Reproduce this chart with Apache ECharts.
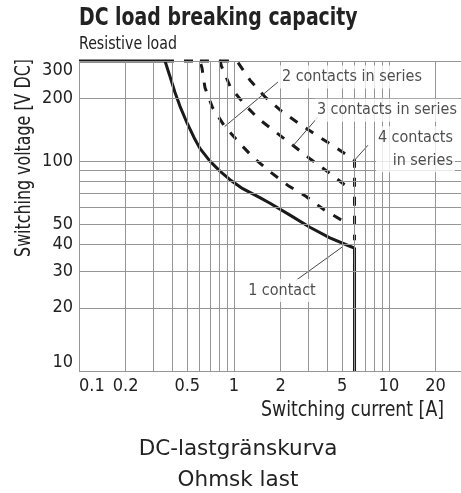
<!DOCTYPE html>
<html>
<head>
<meta charset="utf-8">
<script src="https://cdn.jsdelivr.net/npm/echarts@6/dist/echarts.min.js"></script>
<style>
  html, body { margin: 0; padding: 0; background: #fff; }
  #chart { width: 461px; height: 493px; }
</style>
</head>
<body>
<div id="chart"></div>
<script>
// log paper: where the grid lines sit and which ones carry a label
const xGrid = [0.1, 0.2, 0.3, 0.4, 0.5, 0.6, 0.7, 0.8, 0.9, 1, 2, 3, 4, 5, 6, 7, 8, 9, 10, 20]
const xLabels = [0.1, 0.2, 0.5, 1, 2, 5, 10, 20]
const yGrid = [10, 20, 30, 40, 50, 60, 70, 80, 90, 100, 200, 300]
const yLabels = [10, 20, 30, 40, 50, 100, 200, 300]

// curves, [current A, voltage V]
const oneContact = [[0.1, 300], [0.359, 300], [0.386, 254], [0.416, 213], [0.448, 183], [0.498, 152],
  [0.56, 127], [0.603, 115], [0.7, 100], [0.812, 89.6], [0.942, 81.6], [1.14, 73.9], [1.47, 67],
  [1.71, 63], [2.3, 55.3], [3.09, 48.4], [4.16, 43.1], [5.6, 39.3], [6, 38.5], [6, 10]]
const twoContacts = [[0.359, 300], [0.603, 300], [0.622, 278], [0.65, 224], [0.727, 180], [0.868, 147],
  [1.09, 121.6], [1.33, 104.2], [1.73, 88.4], [2.23, 76.6], [2.91, 68], [3.86, 58.3], [5.36, 50.6]]
const threeContacts = [[0.603, 300], [0.812, 300], [0.83, 284], [0.949, 225], [1.18, 185], [1.43, 160],
  [1.87, 137], [2.4, 119], [3.13, 102], [3.98, 89.6], [5.2, 77]]
const fourContacts = [[0.812, 300], [1.045, 300], [1.09, 287], [1.27, 243], [1.58, 203], [2.01, 174],
  [2.63, 151], [3.46, 132], [4.55, 116], [6, 101], [6, 42]]

// callouts: text, anchor of the text, leader line from -> to
const notes = [
  { text: '2 contacts in series', at: [1.98, 252], align: 'left', from: [1.92, 238], to: [0.87, 146] },
  { text: '3 contacts in series', at: [3.33, 175], align: 'left', from: [3.48, 162], to: [2.4, 118] },
  { text: '4 contacts\nin series', at: [26.7, 114], align: 'right', from: [7.32, 119], to: [6, 101] },
  { text: '1 contact', at: [2.04, 24.2], align: 'center', from: [2.51, 27], to: [5.05, 39.2] }
]

const narrow = '"DejaVu Sans Condensed", "Liberation Sans Narrow", sans-serif'
const ink = '#1a1a1a'
const textColor = '#222'

const chart = echarts.init(document.getElementById('chart'))

const tickText = { fontFamily: narrow, fontSize: 18, color: textColor }

const gridMarks = xGrid.map(v => {
  const item = { xAxis: v, label: { show: false } }
  if (xLabels.includes(v)) {
    item.label = Object.assign({ show: true, position: 'start', distance: 6, formatter: String(v) }, tickText)
    if (v === xGrid[0]) item.label.align = 'left'
  }
  return item
}).concat(yGrid.map(v => {
  const item = { yAxis: v, label: { show: false } }
  if (yLabels.includes(v)) {
    item.label = Object.assign({ show: true, position: 'start', distance: 6, formatter: String(v) }, tickText)
    if (v === yGrid[0]) item.label.verticalAlign = 'bottom'
    if (v === yGrid[yGrid.length - 1]) item.label.verticalAlign = 'top'
  }
  return item
}))

function curve(name, data, dashed) {
  return {
    name: name,
    type: 'line',
    data: data,
    z: 3,
    clip: false,
    silent: true,
    symbol: 'none',
    lineStyle: { color: ink, width: 3, type: dashed ? [9, 10] : 'solid' }
  }
}

const series = [
  {
    type: 'line',
    data: [],
    z: 1,
    silent: true,
    markLine: {
      silent: true,
      animation: false,
      symbol: ['none', 'none'],
      lineStyle: { color: '#959595', width: 1, type: 'solid' },
      emphasis: { disabled: true },
      data: gridMarks
    }
  },
  curve('1 contact', oneContact, false),
  curve('2 contacts in series', twoContacts, true),
  curve('3 contacts in series', threeContacts, true),
  curve('4 contacts in series', fourContacts, true)
]

notes.forEach(n => {
  series.push({
    type: 'line',
    data: [n.from, n.to],
    z: 4,
    silent: true,
    symbol: 'none',
    lineStyle: { color: '#444', width: 1 }
  })
})

series.push({
  type: 'scatter',
  z: 5,
  silent: true,
  symbolSize: 1,
  itemStyle: { color: 'rgba(0,0,0,0)' },
  data: notes.map(n => ({
    value: n.at,
    label: {
      show: true,
      position: 'inside',
      formatter: n.text,
      align: n.align,
      verticalAlign: 'middle',
      fontFamily: narrow,
      fontSize: 16,
      lineHeight: 23,
      color: textColor,
      backgroundColor: '#fff',
      padding: [0, 2]
    }
  }))
})

// free-standing texts, squeezed horizontally to mimic the condensed face
function freeText(text, x, y, font, align, scaleX, rotation) {
  return {
    type: 'text',
    x: x,
    y: y,
    scaleX: scaleX,
    rotation: rotation || 0,
    silent: true,
    style: { text: text, font: font, fill: textColor, align: align, verticalAlign: 'middle' }
  }
}

chart.setOption({
  animation: false,
  graphic: [
    freeText('DC load breaking capacity', 79, 18, 'bold 25px ' + narrow, 'left', 0.84),
    freeText('Resistive load', 79, 44, '17.5px ' + narrow, 'left', 0.9),
    freeText('Switching voltage [V DC]', 25, 158, '20.5px ' + narrow, 'center', 0.86, Math.PI / 2),
    freeText('Switching current [A]', 444, 411, '20.5px ' + narrow, 'right', 0.94),
    freeText('DC-lastgränskurva', 238, 449, '21.5px "DejaVu Sans", sans-serif', 'center', 1),
    freeText('Ohmsk last', 238, 480, '21.5px "DejaVu Sans", sans-serif', 'center', 1)
  ],
  grid: { left: 79, right: 0, top: 61, bottom: 122, containLabel: false },
  xAxis: {
    type: 'log',
    logBase: 10,
    min: 0.1,
    max: 29.2,
    axisLine: { show: false },
    axisTick: { show: false },
    axisLabel: { show: false },
    splitLine: { show: false }
  },
  yAxis: {
    type: 'log',
    logBase: 10,
    min: 10,
    max: 300,
    axisLine: { show: false },
    axisTick: { show: false },
    axisLabel: { show: false },
    splitLine: { show: false }
  },
  series: series
})
</script>
</body>
</html>
